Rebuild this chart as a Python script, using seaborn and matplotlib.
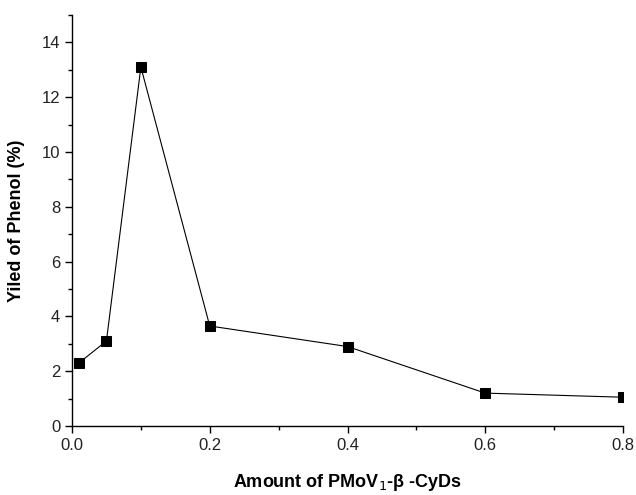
import matplotlib
matplotlib.use("Agg")
import matplotlib.pyplot as plt
import seaborn as sns
import pandas as pd
from matplotlib.ticker import MultipleLocator

amount = [0.01, 0.05, 0.1, 0.2, 0.4, 0.6, 0.8]
yield_phenol = [2.3, 3.1, 13.1, 3.65, 2.9, 1.2, 1.05]

df = pd.DataFrame({"amount": amount, "yield": yield_phenol})

sns.set_style("ticks")
plt.rcParams["font.family"] = ["Liberation Sans", "DejaVu Sans"]
plt.rcParams["text.color"] = "black"
plt.rcParams["axes.labelcolor"] = "black"

fig = plt.figure(figsize=(6.36, 4.95), dpi=100)
ax = fig.add_axes([0.1132, 0.1394, 0.8664, 0.8303])

sns.lineplot(data=df, x="amount", y="yield", ax=ax, color="black",
             linewidth=0.8, marker="s", markersize=7.5, markeredgecolor="black")

ax.set_xlim(0, 0.8)
ax.set_ylim(0, 15)
ax.set_xticks([0.0, 0.2, 0.4, 0.6, 0.8])
ax.set_xticklabels(["0.0", "0.2", "0.4", "0.6", "0.8"])
ax.set_yticks([0, 2, 4, 6, 8, 10, 12, 14])
ax.xaxis.set_minor_locator(MultipleLocator(0.1))
ax.yaxis.set_minor_locator(MultipleLocator(1))
ax.tick_params(which="major", direction="out", length=5, width=1, labelsize=12,
               colors="black", labelcolor="#222222")
ax.tick_params(which="minor", direction="out", length=3, width=1, colors="black")

for side in ["top", "right"]:
    ax.spines[side].set_visible(False)
for side in ["left", "bottom"]:
    ax.spines[side].set_color("black")
    ax.spines[side].set_linewidth(1)

ax.set_xlabel("Amount of PMoV$_1$-β -CyDs", fontsize=13, fontweight="bold",
              labelpad=14, color="black")
ax.set_ylabel("Yiled of Phenol (%)", fontsize=13, fontweight="bold",
              labelpad=12, color="black")

fig.savefig("out.png", dpi=100)
plt.close(fig)
